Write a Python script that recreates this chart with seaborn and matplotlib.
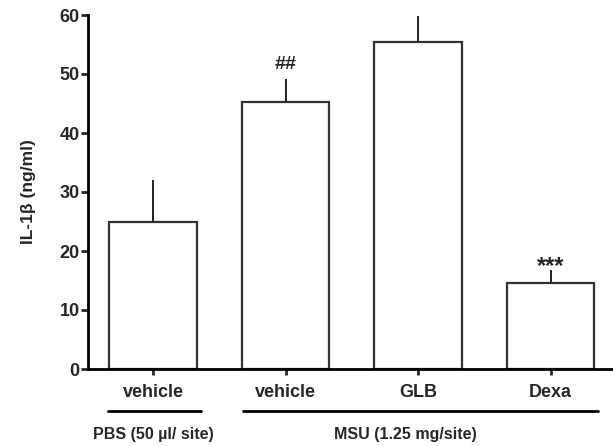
import matplotlib
matplotlib.use("Agg")
import matplotlib.pyplot as plt
import seaborn as sns
import numpy as np
import pandas as pd

categories = ["vehicle", "vehicle ", "GLB", "Dexa"]
tick_labels = ["vehicle", "vehicle", "GLB", "Dexa"]
means = [24.9, 45.3, 55.5, 14.6]
sems = [7.1, 3.9, 4.4, 2.1]
marks = ["", "##", "", "***"]
yticks = [0, 10, 20, 30, 40, 50, 60]

sns.set_style("ticks")
plt.rcParams['font.family'] = ['Liberation Sans', 'DejaVu Sans']
plt.rcParams['font.weight'] = 'bold'

fig = plt.figure(figsize=(6.13, 4.46), dpi=100)
ax = fig.add_axes([88/613, 77/446, 1 - 88/613, (369 - 15)/446])

df = pd.DataFrame({"cat": categories, "val": means})
sns.barplot(data=df, x="cat", y="val", ax=ax, color="white", edgecolor="#333333",
            linewidth=1.6, width=0.66, errorbar=None, saturation=1)
x = np.arange(len(categories))
ax.errorbar(x, means, yerr=[np.zeros(len(sems)), sems], fmt="none",
            ecolor="#222222", elinewidth=1.4, capsize=0)
mark_size = {"##": 14, "***": 17}
mark_off = {"##": 1.6, "***": -0.4}
for xi, m, s, t in zip(x, means, sems, marks):
    if t:
        ax.text(xi, m + s + mark_off[t], t, ha="center", va="baseline",
                fontsize=mark_size[t], fontweight="bold")

ax.set_xlim(-0.49, 3.47)
ax.set_ylim(0, 60)
ax.set_yticks(yticks)
ax.set_yticklabels([str(v) for v in yticks], fontsize=13, fontweight="bold")
ax.set_xticks(x)
ax.set_xticklabels(tick_labels, fontsize=13, fontweight="bold")
ax.set_xlabel("")
ax.set_ylabel("IL-1β (ng/ml)", fontsize=12.5, fontweight="bold", labelpad=17)
for sp in ["top", "right"]:
    ax.spines[sp].set_visible(False)
for sp in ["left", "bottom"]:
    ax.spines[sp].set_linewidth(2.0)
    ax.spines[sp].set_color("black")
ax.tick_params(axis="y", length=5, width=2.0, pad=1)
ax.tick_params(axis="x", length=4.5, width=2.0, pad=6.5)

# group labels
ly = 1 - 411/446
fig.add_artist(plt.Line2D([108/613, 201/613], [ly, ly], color="black", lw=2.0))
fig.add_artist(plt.Line2D([243/613, 598/613], [ly, ly], color="black", lw=2.0))
fig.text(153/613, 1 - 434/446, "PBS (50 µl/ site)", ha="center", va="center", fontsize=11.5, fontweight="bold")
fig.text(405/613, 1 - 434/446, "MSU (1.25 mg/site)", ha="center", va="center", fontsize=11.5, fontweight="bold")

fig.savefig("out.png", dpi=100)
